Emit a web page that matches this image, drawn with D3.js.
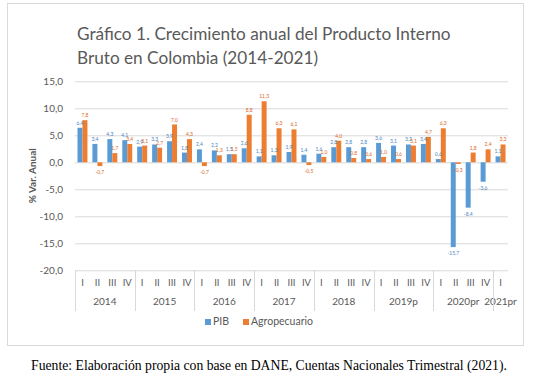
<!DOCTYPE html>
<html>
<head>
<meta charset="utf-8">
<script src="https://cdn.jsdelivr.net/npm/d3@7"></script>
<style>
  body { margin: 0; background: #fff; }
  svg { display: block; }
</style>
</head>
<body>
<div id="chart"></div>
<script>
// data
const years = ['2014', '2015', '2016', '2017', '2018', '2019p', '2020pr', '2021pr']
const quarters = ['I', 'II', 'III', 'IV']
const periods = ['2014-I', '2014-II', '2014-III', '2014-IV',
  '2015-I', '2015-II', '2015-III', '2015-IV',
  '2016-I', '2016-II', '2016-III', '2016-IV',
  '2017-I', '2017-II', '2017-III', '2017-IV',
  '2018-I', '2018-II', '2018-III', '2018-IV',
  '2019p-I', '2019p-II', '2019p-III', '2019p-IV',
  '2020pr-I', '2020pr-II', '2020pr-III', '2020pr-IV',
  '2021pr-I']
const pib = [6.4, 3.4, 4.3, 4.1, 2.9, 3.3, 3.9, 1.8, 2.4, 2.2, 1.5, 2.6,
  1.1, 1.3, 1.9, 1.4, 1.6, 2.8, 2.8, 2.8, 3.6, 3.1, 3.3, 3.4,
  0.6, -15.7, -8.4, -3.6, 1.1]
const agro = [7.8, -0.7, 1.7, 3.4, 3.1, 2.7, 7.0, 4.3, -0.7, 1.3, 1.5, 8.8,
  11.3, 6.3, 6.1, -0.5, 1.0, 4.0, 0.8, 0.6, 1.0, 0.6, 3.1, 4.7,
  6.3, -0.3, 1.8, 2.4, 3.3]
const seriesNames = ['PIB', 'Agropecuario']
const yTicks = [-20, -15, -10, -5, 0, 5, 10, 15]

const width = 538,
  height = 383
const plot = { left: 75, right: 508, top: 81.3, bottom: 270.3 }
const colors = { PIB: '#5b9bd5', Agropecuario: '#ed7d31' }
const labelColors = { PIB: '#4a86bf', Agropecuario: '#d9692a' }
const grey = '#595959'

const fmt = v => d3.format('.1f')(v).replace('.', ',').replace('−', '-')

const svg = d3.select('#chart')
  .append('svg')
  .attr('width', width)
  .attr('height', height)

// outer chart frame
svg.append('rect')
  .attr('x', 7.5).attr('y', 3.5)
  .attr('width', 516).attr('height', 342)
  .attr('fill', 'none')
  .attr('stroke', '#d9d9d9')

// title
const title = svg.append('text')
  .attr('font-family', 'Lato, sans-serif')
  .attr('font-size', 17.2)
  .attr('fill', grey)
title.append('tspan').attr('x', 77).attr('y', 40)
  .text('Gráfico 1. Crecimiento anual del Producto Interno')
title.append('tspan').attr('x', 77).attr('y', 64)
  .text('Bruto en Colombia (2014-2021)')

const xScale = d3.scaleBand()
  .domain(periods)
  .range([plot.left, plot.right])

const xInner = d3.scaleBand()
  .domain(seriesNames)
  .range([0, xScale.bandwidth()])
  .paddingOuter(0.5)

const yScale = d3.scaleLinear()
  .domain([-20, 15])
  .range([plot.bottom, plot.top])

// gridlines + y labels
const yAxis = d3.axisLeft(yScale)
  .tickValues(yTicks)
  .tickSize(-(plot.right - plot.left))
  .tickPadding(12)
  .tickFormat(fmt)

const gy = svg.append('g')
  .attr('transform', `translate(${plot.left},0)`)
  .call(yAxis)
gy.select('.domain').remove()
gy.selectAll('line').attr('stroke', '#d9d9d9')
gy.selectAll('text')
  .attr('font-family', 'Lato, sans-serif')
  .attr('font-size', 10)
  .attr('fill', grey)

svg.append('text')
  .attr('transform', `translate(36,${(plot.top + plot.bottom) / 2}) rotate(-90)`)
  .attr('text-anchor', 'middle')
  .attr('font-family', 'Lato, sans-serif')
  .attr('font-size', 10)
  .attr('font-weight', 'bold')
  .attr('fill', grey)
  .text('% Var. Anual')

// bars
const rows = periods.map((p, i) => ({ period: p, PIB: pib[i], Agropecuario: agro[i] }))

const groups = svg.selectAll('g.period')
  .data(rows)
  .enter()
  .append('g')
  .attr('class', 'period')
  .attr('transform', d => `translate(${xScale(d.period)},0)`)

groups.selectAll('rect')
  .data(d => seriesNames.map(s => ({ key: s, value: d[s] })))
  .enter()
  .append('rect')
  .attr('x', d => xInner(d.key))
  .attr('width', xInner.bandwidth())
  .attr('y', d => yScale(Math.max(0, d.value)))
  .attr('height', d => Math.abs(yScale(d.value) - yScale(0)))
  .attr('fill', d => colors[d.key])

// data labels (tiny, as in the source)
groups.selectAll('text')
  .data(d => seriesNames.map(s => ({ key: s, value: d[s] })))
  .enter()
  .append('text')
  .attr('x', d => xInner(d.key) + xInner.bandwidth() / 2)
  .attr('y', d => d.value >= 0 ? yScale(d.value) - 3 : yScale(d.value) + 8)
  .attr('text-anchor', 'middle')
  .attr('font-family', 'Lato, sans-serif')
  .attr('font-size', 5)
  .attr('fill', d => labelColors[d.key])
  .text(d => fmt(d.value))

// multi-level category axis
const catAxis = svg.append('g')
catAxis.selectAll('text.q')
  .data(periods)
  .enter()
  .append('text')
  .attr('class', 'q')
  .attr('x', d => xScale(d) + xScale.bandwidth() / 2)
  .attr('y', 286)
  .attr('text-anchor', 'middle')
  .attr('font-family', 'Lato, sans-serif')
  .attr('font-size', 9.5)
  .attr('fill', grey)
  .text(d => quarters[quarters.indexOf(d.split('-')[1])])

const yearSpans = years.map(y => {
  const ps = periods.filter(p => p.split('-')[0] === y)
  const x0 = xScale(ps[0])
  const x1 = xScale(ps[ps.length - 1]) + xScale.bandwidth()
  return { year: y, x0: x0, x1: x1 }
})

catAxis.selectAll('text.y')
  .data(yearSpans)
  .enter()
  .append('text')
  .attr('class', 'y')
  .attr('x', d => (d.x0 + d.x1) / 2)
  .attr('y', 305)
  .attr('text-anchor', 'middle')
  .attr('font-family', 'Lato, sans-serif')
  .attr('font-size', 10)
  .attr('fill', grey)
  .text(d => d.year)

const seps = [plot.left].concat(yearSpans.slice(0, -1).map(d => d.x1))
catAxis.selectAll('line.sep')
  .data(seps)
  .enter()
  .append('line')
  .attr('class', 'sep')
  .attr('x1', d => Math.round(d) + 0.5)
  .attr('x2', d => Math.round(d) + 0.5)
  .attr('y1', plot.bottom)
  .attr('y2', 311)
  .attr('stroke', '#d9d9d9')

// legend
const legend = svg.append('g')
  .attr('transform', 'translate(205,325)')
const legendX = { PIB: 0, Agropecuario: 38 }
seriesNames.forEach(s => {
  legend.append('rect')
    .attr('x', legendX[s])
    .attr('y', -6)
    .attr('width', 6)
    .attr('height', 6)
    .attr('fill', colors[s])
  legend.append('text')
    .attr('x', legendX[s] + 8)
    .attr('y', 0)
    .attr('font-family', 'Lato, sans-serif')
    .attr('font-size', 10.5)
    .attr('fill', grey)
    .text(s)
})

// source
svg.append('text')
  .attr('x', 269)
  .attr('y', 370)
  .attr('text-anchor', 'middle')
  .attr('font-family', '"Liberation Serif", serif')
  .attr('font-size', 13.7)
  .attr('fill', '#000')
  .text('Fuente: Elaboración propia con base en DANE, Cuentas Nacionales Trimestral (2021).')
</script>
</body>
</html>
